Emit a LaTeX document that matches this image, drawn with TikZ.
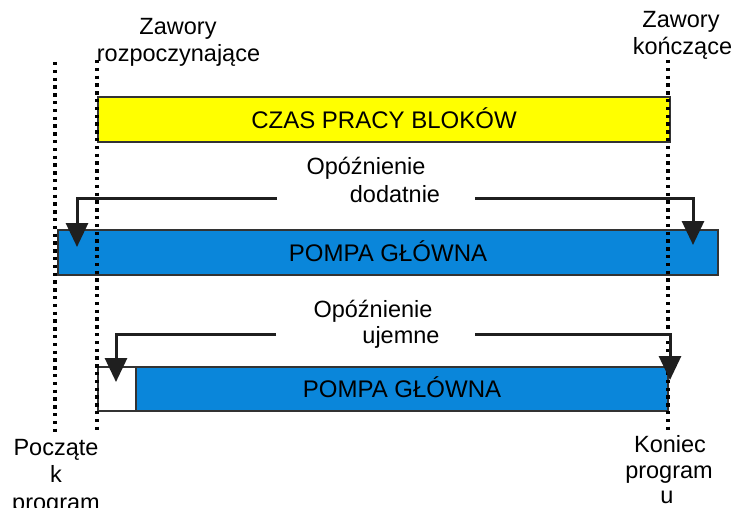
\documentclass[tikz,border=0pt]{standalone}
\usepackage{fontspec}
\setmainfont{Liberation Sans}
\usetikzlibrary{arrows.meta}
\definecolor{barblue}{HTML}{0A86DA}
\definecolor{baryellow}{HTML}{FFFF00}
\definecolor{edge}{HTML}{333333}
\begin{document}
\begin{tikzpicture}[x=1pt,y=-1pt,
  lbl/.style={inner sep=0pt, anchor=base, font=\fontsize{23.5}{27}\selectfont},
  bar/.style={draw=edge, line width=2pt, inner sep=0pt, anchor=north west,
    font=\fontsize{24}{28}\selectfont, text height=17.5pt, text depth=0pt},
  vline/.style={line width=3.4pt, dash pattern=on 3.4pt off 4.4pt, black},
  arr/.style={line width=3pt, draw=black!88, -{Triangle[width=22pt,length=24pt]}}]
\useasboundingbox (0,0) rectangle (734,508);

% bars
\node[bar, fill=baryellow, minimum width=572pt, minimum height=45pt] (czas) at (97,96) {CZAS PRACY BLOKÓW};
\node[bar, fill=barblue, minimum width=660pt, minimum height=45pt] (pompa1) at (57,229) {POMPA GŁÓWNA};
\node[bar, fill=white, minimum width=38pt, minimum height=44pt] (wait2) at (97,366) {};
\node[bar, fill=barblue, minimum width=532pt, minimum height=44pt] (pompa2) at (135,366) {POMPA GŁÓWNA};

% dotted time lines
\coordinate (p1) at (55,62);  \coordinate (p2) at (55,433);
\coordinate (z1) at (97,60);  \coordinate (z2) at (97,433);
\coordinate (k1) at (668,60); \coordinate (k2) at (668,432);
\draw[vline] (p1) -- (p2);
\draw[vline] (z1) -- (z2);
\draw[vline] (k1) -- (k2);

% arrows: positive delay
\coordinate (a1l) at (277,199); \coordinate (t1l) at (77,247);
\coordinate (a1r) at (475,199); \coordinate (t1r) at (693,245);
\draw[arr] (a1l) -| (t1l);
\draw[arr] (a1r) -| (t1r);

% arrows: negative delay
\coordinate (a2l) at (276,334); \coordinate (t2l) at (116,382);
\coordinate (a2r) at (475,334); \coordinate (t2r) at (670,380);
\draw[arr] (a2l) -| (t2l);
\draw[arr] (a2r) -| (t2r);

% labels
\node[lbl] (zr1) at (178,35) {Zawory};
\node[lbl] (zr2) at (178.5,62) {rozpoczynające};
\node[lbl] (zk1) at (681,28) {Zawory};
\node[lbl] (zk2) at (682.5,55) {kończące};

\node[lbl] (od1) at (366,175) {Opóźnienie};
\node[lbl] (od2) at (395,202) {dodatnie};
\node[lbl] (ou1) at (373,317) {Opóźnienie};
\node[lbl] (ou2) at (401,343) {ujemne};

\node[lbl] (ps1) at (56,455) {Począte};
\node[lbl] (ps2) at (56,482) {k};
\node[lbl] (ps3) at (56,510) {program};
\node[lbl] (kn1) at (670,452) {Koniec};
\node[lbl] (kn2) at (669,478) {program};
\node[lbl] (kn3) at (667,503) {u};
\end{tikzpicture}
\end{document}
